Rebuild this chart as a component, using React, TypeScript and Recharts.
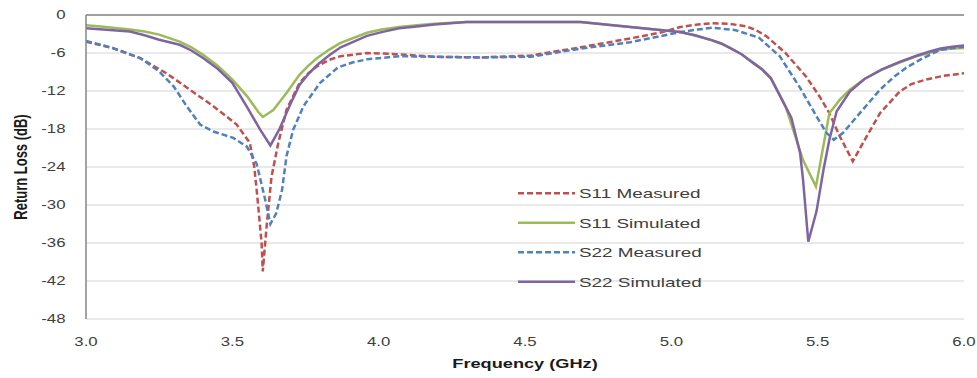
import React from 'react';
import {
  LineChart,
  Line,
  XAxis,
  YAxis,
  CartesianGrid,
  Legend,
  ReferenceLine,
  Label
} from 'recharts';

// frequency axis (GHz) and return loss axis (dB)
const freqTicks = [3.0, 3.5, 4.0, 4.5, 5.0, 5.5, 6.0];
const dbTicks = [0, -6, -12, -18, -24, -30, -36, -42, -48];

// S11 Measured
const s11MeasFreq = [3.0, 3.09, 3.185, 3.275, 3.355, 3.435, 3.515, 3.56, 3.575, 3.585, 3.6, 3.604, 3.617, 3.634, 3.657, 3.685, 3.73, 3.76, 3.79, 3.83, 3.87, 3.96, 4.07, 4.19, 4.35, 4.52, 4.69, 4.86, 4.97, 5.03, 5.09, 5.14, 5.2, 5.257, 5.29, 5.326, 5.39, 5.46, 5.507, 5.54, 5.576, 5.62, 5.667, 5.713, 5.78, 5.82, 5.87, 5.93, 6.0];
const s11MeasDb = [-4.2, -5.2, -6.8, -9.2, -11.8, -14.4, -17.3, -20.2, -24, -28.5, -36, -40.5, -33.4, -25.5, -20.2, -15.0, -10.7, -9.2, -8.1, -7.1, -6.5, -6.0, -6.2, -6.6, -6.7, -6.4, -5.1, -3.7, -2.7, -1.9, -1.5, -1.3, -1.4, -1.8, -2.4, -3.4, -6.0, -9.7, -12.9, -15.5, -19.2, -23.1, -19.2, -15.5, -12.1, -10.9, -10.2, -9.6, -9.2];

// S11 Simulated
const s11SimFreq = [3.0, 3.05, 3.15, 3.2, 3.25, 3.32, 3.36, 3.4, 3.45, 3.5, 3.55, 3.59, 3.604, 3.64, 3.685, 3.73, 3.76, 3.79, 3.83, 3.87, 3.96, 4.01, 4.07, 4.13, 4.19, 4.3, 4.5, 4.69, 4.86, 5.03, 5.08, 5.14, 5.17, 5.2, 5.24, 5.28, 5.31, 5.34, 5.39, 5.45, 5.494, 5.54, 5.575, 5.61, 5.66, 5.72, 5.78, 5.84, 5.88, 5.92, 5.96, 6.0];
const s11SimDb = [-1.6, -1.8, -2.3, -2.6, -3.1, -4.2, -5.1, -6.3, -8.0, -10.2, -12.8, -15.4, -16.1, -15.0, -12.3, -9.4, -8.0, -6.8, -5.5, -4.4, -2.8, -2.3, -1.9, -1.6, -1.4, -1.1, -1.1, -1.1, -1.9, -2.7, -3.2, -4.0, -4.5, -5.2, -6.2, -7.5, -8.5, -9.9, -14.4, -22.9, -27.1, -15.5, -13.4, -11.8, -10.1, -8.6, -7.5, -6.5, -6.0, -5.5, -5.3, -5.2];

// S22 Measured
const s22MeasFreq = [3.0, 3.09, 3.185, 3.25, 3.3, 3.344, 3.39, 3.435, 3.503, 3.55, 3.583, 3.61, 3.63, 3.65, 3.67, 3.685, 3.708, 3.743, 3.8, 3.86, 3.91, 3.96, 4.07, 4.19, 4.35, 4.52, 4.69, 4.86, 5.03, 5.09, 5.14, 5.22, 5.3, 5.37, 5.44, 5.496, 5.53, 5.555, 5.587, 5.644, 5.713, 5.76, 5.8, 5.86, 5.92, 6.0];
const s22MeasDb = [-4.1, -5.2, -6.8, -8.9, -11.3, -14.4, -17.3, -18.4, -19.4, -20.8, -23.5, -28.7, -33.0, -31.3, -27.6, -22.3, -18.1, -14.4, -10.7, -8.3, -7.5, -7.0, -6.5, -6.6, -6.7, -6.6, -5.3, -4.3, -2.7, -2.3, -2.0, -2.4, -3.6, -6.5, -11.5, -16.0, -18.6, -19.7, -18.6, -15.5, -11.8, -9.8, -8.4, -6.8, -5.5, -5.0];

// S22 Simulated
const s22SimFreq = [3.0, 3.15, 3.2, 3.25, 3.32, 3.36, 3.4, 3.45, 3.5, 3.55, 3.595, 3.63, 3.66, 3.7, 3.73, 3.76, 3.79, 3.83, 3.87, 3.96, 4.01, 4.07, 4.13, 4.19, 4.3, 4.5, 4.69, 4.86, 5.03, 5.08, 5.14, 5.17, 5.2, 5.24, 5.28, 5.31, 5.34, 5.41, 5.44, 5.45, 5.468, 5.496, 5.52, 5.54, 5.565, 5.61, 5.66, 5.72, 5.78, 5.84, 5.88, 5.92, 5.96, 6.0];
const s22SimDb = [-2.1, -2.6, -3.2, -3.9, -4.7, -5.6, -6.8, -8.5, -10.7, -14.5, -18.1, -20.6, -18.1, -13.9, -11.0, -9.3, -7.9, -6.4, -5.1, -3.3, -2.7, -2.1, -1.8, -1.5, -1.1, -1.1, -1.1, -1.9, -2.7, -3.2, -4.0, -4.5, -5.2, -6.2, -7.6, -8.6, -10.0, -16.2, -21.8, -26.0, -35.8, -31.0, -24.4, -19.7, -15.2, -12.1, -10.1, -8.6, -7.4, -6.4, -5.8, -5.3, -5.0, -4.8];

const seriesNames = ['S11 Measured', 'S11 Simulated', 'S22 Measured', 'S22 Simulated'];

const toPoints = (freq: number[], db: number[]) => freq.map((f, i) => ({ f, db: db[i] }));

const series = [
  { name: seriesNames[0], data: toPoints(s11MeasFreq, s11MeasDb), color: '#C0504D', dash: '6 3' },
  { name: seriesNames[1], data: toPoints(s11SimFreq, s11SimDb), color: '#9BBB59', dash: undefined },
  { name: seriesNames[2], data: toPoints(s22MeasFreq, s22MeasDb), color: '#4F81BD', dash: '6 3' },
  { name: seriesNames[3], data: toPoints(s22SimFreq, s22SimDb), color: '#8064A2', dash: undefined },
];

const FONT = '"Liberation Sans", Arial, sans-serif';
const TEXT = '#404040';
const STRETCH = 1.4; // the reference text is wide, stretch it horizontally

const XTick = ({ x, y, payload }: any) => (
  <g transform={`translate(${x},${y + 27})`}>
    <text transform={`scale(${STRETCH},1)`} textAnchor="middle" fontFamily={FONT} fontSize={12} fill={TEXT}>
      {Number(payload.value).toFixed(1)}
    </text>
  </g>
);

const YTick = ({ x, y, payload }: any) => (
  <g transform={`translate(${x - 20.5},${y + 4.3})`}>
    <text transform={`scale(${STRETCH},1)`} textAnchor="end" fontFamily={FONT} fontSize={12} fill={TEXT}>
      {payload.value}
    </text>
  </g>
);

const LegendBox = () => (
  <svg width={220} height={115} style={{ display: 'block' }}>
    {series.map((s, i) => {
      const cy = 13.3 + i * 29.5;
      return (
        <g key={s.name}>
          <line x1={8} x2={65} y1={cy} y2={cy} stroke={s.color} strokeWidth={2.5} strokeDasharray={s.dash} />
          <g transform={`translate(69,${cy + 4.8})`}>
            <text transform={`scale(${STRETCH},1)`} fontFamily={FONT} fontSize={13.5} fill={TEXT}>
              {s.name}
            </text>
          </g>
        </g>
      );
    })}
  </svg>
);

export default function App() {
  return (
    <div style={{ position: 'absolute', left: 0, top: 0, width: 977, height: 378, background: '#fff' }}>
      <LineChart width={977} height={378} margin={{ top: 15, right: 13, bottom: 29, left: 0 }}>
        <CartesianGrid vertical={false} stroke="#D4D4D4" />
        <XAxis
          type="number"
          dataKey="f"
          domain={[3, 6]}
          ticks={freqTicks}
          allowDataOverflow
          axisLine={false}
          tickLine={false}
          tickSize={0}
          tickMargin={0}
          height={30}
          tick={<XTick />}
        >
          <Label
            content={({ viewBox }: any) => (
              <g transform={`translate(${viewBox.x + viewBox.width / 2},368)`}>
                <text transform={`scale(${STRETCH},1)`} textAnchor="middle" fontFamily={FONT} fontWeight="bold" fontSize={13} fill="#1a1a1a">
                  Frequency (GHz)
                </text>
              </g>
            )}
          />
        </XAxis>
        <YAxis
          type="number"
          domain={[-48, 0]}
          ticks={dbTicks}
          allowDataOverflow
          width={86}
          axisLine={{ stroke: '#868686', strokeWidth: 1.5 }}
          tickLine={false}
          tickSize={0}
          tickMargin={0}
          tick={<YTick />}
        >
          <Label
            content={({ viewBox }: any) => (
              <g transform={`translate(27,${viewBox.y + viewBox.height / 2}) scale(${STRETCH},1) rotate(-90)`}>
                <text textAnchor="middle" fontFamily={FONT} fontWeight="bold" fontSize={13} fill="#1a1a1a">
                  Return Loss (dB)
                </text>
              </g>
            )}
          />
        </YAxis>
        <ReferenceLine y={0} stroke="#868686" strokeWidth={1.5} />
        <Legend
          layout="vertical"
          align="center"
          verticalAlign="middle"
          content={<LegendBox />}
          wrapperStyle={{ position: 'absolute', left: 510, top: 180, width: 220, height: 115 }}
        />
        {series.map((s) => (
          <Line
            key={s.name}
            name={s.name}
            data={s.data}
            dataKey="db"
            type="linear"
            stroke={s.color}
            strokeWidth={2.5}
            strokeDasharray={s.dash}
            dot={false}
            activeDot={false}
            isAnimationActive={false}
          />
        ))}
      </LineChart>
    </div>
  );
}
